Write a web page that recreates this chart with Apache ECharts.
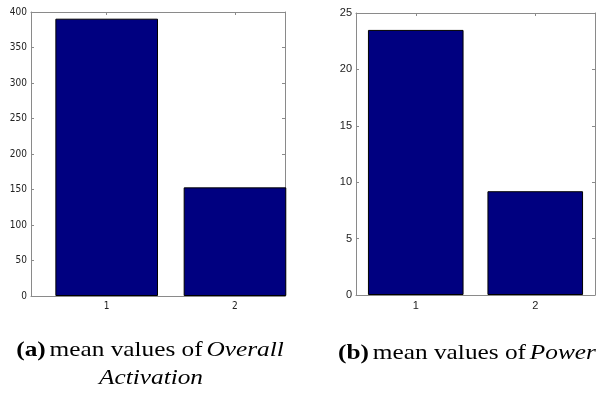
<!DOCTYPE html>
<html>
<head>
<meta charset="utf-8">
<script src="https://cdn.jsdelivr.net/npm/echarts@6/dist/echarts.min.js"></script>
<style>html,body{margin:0;padding:0;background:#fff}#c{width:608px;height:393px}</style>
</head>
<body>
<div id="c"></div>
<script>
var categories = [1, 2];
var overallActivation = [390.6, 153];
var power = [23.5, 9.2];
var leftTicks = [0, 50, 100, 150, 200, 250, 300, 350, 400];
var rightTicks = [0, 5, 10, 15, 20, 25];

var chart = echarts.init(document.getElementById('c'), null, {renderer: 'canvas'});
var axisColor = '#8a8a8a';
var narrowFont = '"Liberation Sans Narrow", "DejaVu Sans Condensed", "Liberation Sans", sans-serif';
var normalFont = '"Liberation Sans", Arial, sans-serif';

function xAxes(grid, min, max, font, fs) {
  return [
    {type: 'value', gridIndex: grid, position: 'bottom', min: min, max: max,
     axisLine: {show: true, lineStyle: {color: axisColor, width: 1}},
     axisTick: {show: true, inside: true, length: 3, customValues: categories, lineStyle: {color: axisColor}},
     axisLabel: {show: true, customValues: categories, color: '#222', fontFamily: font, fontSize: fs, margin: 5},
     splitLine: {show: false}},
    {type: 'value', gridIndex: grid, position: 'top', min: min, max: max,
     axisLine: {show: true, onZero: false, lineStyle: {color: axisColor, width: 1}},
     axisTick: {show: true, inside: true, length: 3, customValues: categories, lineStyle: {color: axisColor}},
     axisLabel: {show: false}, splitLine: {show: false}}
  ];
}
function yAxes(grid, ticks, font, fs, margin) {
  var mx = ticks[ticks.length - 1];
  var iv = ticks[1] - ticks[0];
  return [
    {type: 'value', gridIndex: grid, position: 'left', min: 0, max: mx, interval: iv,
     axisLine: {show: true, lineStyle: {color: axisColor, width: 1}},
     axisTick: {show: true, inside: true, length: 3, lineStyle: {color: axisColor}},
     axisLabel: {show: true, color: '#222', fontFamily: font, fontSize: fs, margin: margin},
     splitLine: {show: false}},
    {type: 'value', gridIndex: grid, position: 'right', min: 0, max: mx, interval: iv,
     axisLine: {show: true, onZero: false, lineStyle: {color: axisColor, width: 1}},
     axisTick: {show: true, inside: true, length: 3, lineStyle: {color: axisColor}},
     axisLabel: {show: false}, splitLine: {show: false}}
  ];
}

var option = {
  animation: false,
  backgroundColor: '#fff',
  grid: [
    {left: 31, top: 12, width: 254, height: 284},
    {left: 356, top: 13, width: 239, height: 282}
  ],
  xAxis: xAxes(0, 0.41, 2.39, narrowFont, 10).concat(xAxes(1, 0.5, 2.5, normalFont, 11)),
  yAxis: yAxes(0, leftTicks, narrowFont, 10, 4).concat(yAxes(1, rightTicks, normalFont, 11, 4)),
  series: [
    {type: 'bar', xAxisIndex: 0, yAxisIndex: 0, barWidth: '80%', clip: true,
     itemStyle: {color: '#000080', borderColor: '#000', borderWidth: 1},
     data: categories.map(function (c, i) { return [c, overallActivation[i]]; })},
    {type: 'bar', xAxisIndex: 2, yAxisIndex: 2, barWidth: '80%', clip: true,
     itemStyle: {color: '#000080', borderColor: '#000', borderWidth: 1},
     data: categories.map(function (c, i) { return [c, power[i]]; })}
  ],
  graphic: [
    {type: 'text', x: 150, y: 350, scaleX: 1.15, style: {
      text: '{b|(a)} {n|mean values of} {i|Overall}', align: 'center', verticalAlign: 'middle',
      rich: {
        b: {fontFamily: '"Liberation Serif", "Times New Roman", serif', fontSize: 22, fontWeight: 'bold', fill: '#000'},
        n: {fontFamily: '"Liberation Serif", "Times New Roman", serif', fontSize: 22, fill: '#000'},
        i: {fontFamily: '"Liberation Serif", "Times New Roman", serif', fontSize: 22, fontStyle: 'italic', fill: '#000'}
      }}},
    {type: 'text', x: 151, y: 378, scaleX: 1.15, style: {
      text: 'Activation', align: 'center', verticalAlign: 'middle',
      fontFamily: '"Liberation Serif", "Times New Roman", serif', fontSize: 22, fontStyle: 'italic', fill: '#000'}},
    {type: 'text', x: 467, y: 353, scaleX: 1.15, style: {
      text: '{b|(b)} {n|mean values of} {i|Power}', align: 'center', verticalAlign: 'middle',
      rich: {
        b: {fontFamily: '"Liberation Serif", "Times New Roman", serif', fontSize: 22, fontWeight: 'bold', fill: '#000'},
        n: {fontFamily: '"Liberation Serif", "Times New Roman", serif', fontSize: 22, fill: '#000'},
        i: {fontFamily: '"Liberation Serif", "Times New Roman", serif', fontSize: 22, fontStyle: 'italic', fill: '#000'}
      }}}
  ]
};
chart.setOption(option);
</script>
</body>
</html>
